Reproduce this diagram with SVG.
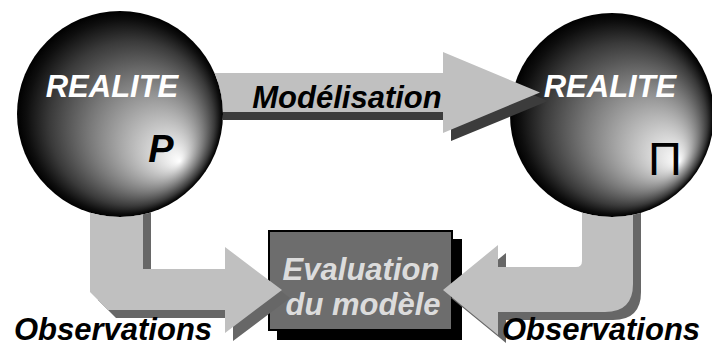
<svg xmlns="http://www.w3.org/2000/svg" width="712" height="352" viewBox="0 0 712 352">
  <style>
    .lbl { font-family: "Liberation Sans", Arial, sans-serif; font-weight: bold; font-style: italic; font-size: 31px; }
    .arrow { fill: #c0c0c0; }
    .shadowL { fill: #676767; }
    .shadowT { fill: #3c3c3c; }
  </style>
  <defs>
    <radialGradient id="sphereL" cx="0.5" cy="0.5" r="0.5" fx="0.79" fy="0.73">
      <stop offset="0" stop-color="#ffffff"/>
      <stop offset="0.22" stop-color="#cacaca"/>
      <stop offset="0.55" stop-color="#7a7a7a"/>
      <stop offset="0.8" stop-color="#3a3a3a"/>
      <stop offset="0.94" stop-color="#0e0e0e"/>
      <stop offset="1" stop-color="#000000"/>
    </radialGradient>
    <radialGradient id="sphereR" cx="0.5" cy="0.5" r="0.5" fx="0.83" fy="0.73">
      <stop offset="0" stop-color="#ffffff"/>
      <stop offset="0.22" stop-color="#cacaca"/>
      <stop offset="0.55" stop-color="#7a7a7a"/>
      <stop offset="0.8" stop-color="#3a3a3a"/>
      <stop offset="0.94" stop-color="#0e0e0e"/>
      <stop offset="1" stop-color="#000000"/>
    </radialGradient>
    <clipPath id="clipLeft">
      <path clip-rule="evenodd" d="M0,0H712V352H0Z M17,114 a103,103 0 1,0 206,0 a103,103 0 1,0 -206,0Z"/>
    </clipPath>
    <clipPath id="clipBoth">
      <path clip-rule="evenodd" d="M0,0H712V352H0Z M17,114 a103,103 0 1,0 206,0 a103,103 0 1,0 -206,0Z M510,115 a102,102 0 1,0 204,0 a102,102 0 1,0 -204,0Z"/>
    </clipPath>
  </defs>

  <g id="node-evaluation">
    <rect x="277" y="239" width="185" height="101" fill="#000"/>
    <rect x="269" y="231" width="183" height="99" fill="#6d6d6d" stroke="#000" stroke-width="2"/>
    <text class="lbl" x="361" y="280" text-anchor="middle" fill="#dcdcdc">Evaluation</text>
    <text class="lbl" x="363" y="315" text-anchor="middle" fill="#dcdcdc">du modèle</text>
  </g>

  <g id="node-realite-p">
    <circle cx="120" cy="114" r="103" fill="url(#sphereL)"/>
    <text class="lbl" x="112" y="97" text-anchor="middle" fill="#fff">REALITE</text>
    <text class="lbl" x="161" y="162" text-anchor="middle" fill="#000" style="font-size:38px">P</text>
  </g>

  <g id="node-realite-pi">
    <circle cx="612" cy="115" r="102" fill="url(#sphereR)"/>
    <text class="lbl" x="610" y="97" text-anchor="middle" fill="#fff">REALITE</text>
    <text x="665" y="175" text-anchor="middle" fill="#000" font-family="Liberation Sans, Arial, sans-serif" font-size="47">Π</text>
  </g>

  <g id="connectors">
    <g clip-path="url(#clipBoth)">
      <path class="shadowL" transform="translate(8,8)" d="M90,150 L143,150 L143,269 L225,269 L225,247 L282,290 L225,333 L225,310 L108,310 L90,292 Z"/>
      <path class="arrow" d="M90,150 L143,150 L143,269 L225,269 L225,247 L282,290 L225,333 L225,310 L108,310 L90,292 Z"/>
      <path class="shadowL" transform="translate(8,8)" d="M582,150 L633,150 L633,284 Q633,312 605,312 L498,312 L498,335 L443,290 L498,245 L498,267 L576,267 Q582,267 582,261 Z"/>
      <path class="arrow" d="M582,150 L633,150 L633,284 Q633,312 605,312 L498,312 L498,335 L443,290 L498,245 L498,267 L576,267 Q582,267 582,261 Z"/>
    </g>
    <g clip-path="url(#clipLeft)">
      <path class="shadowT" d="M200,81 L451,81 L451,61 L548,101 L451,141 L451,120 L200,120 Z"/>
      <path class="arrow" d="M200,73 L443,73 L443,52 L540,92.5 L443,133 L443,112 L200,112 Z"/>
    </g>
    <text class="lbl" x="347" y="108" text-anchor="middle" fill="#000">Modélisation</text>
    <text class="lbl" x="113" y="340" text-anchor="middle" fill="#000">Observations</text>
    <text class="lbl" x="601" y="340" text-anchor="middle" fill="#000">Observations</text>
  </g>
</svg>
